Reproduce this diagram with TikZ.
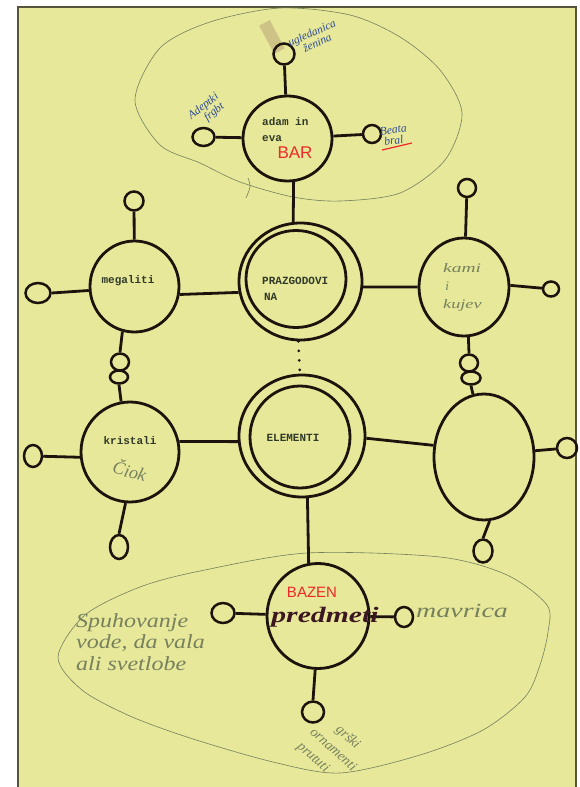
\documentclass[tikz,border=0pt]{standalone}
\usepackage{fontspec}
\usepackage{graphicx}
\newfontfamily\tw{Liberation Mono}
\newfontfamily\hand{Liberation Serif}
\newfontfamily\marker{Liberation Sans}
\usetikzlibrary{shapes.geometric}
\definecolor{paper}{RGB}{231,232,154}
\definecolor{edge}{RGB}{85,85,60}
\definecolor{ink}{RGB}{28,20,12}
\definecolor{pencil}{RGB}{118,128,92}
\definecolor{bluepen}{RGB}{45,75,150}
\definecolor{redpen}{RGB}{238,40,40}
\definecolor{typed}{RGB}{48,58,40}
\definecolor{plum}{RGB}{60,22,32}
\definecolor{tape}{RGB}{205,195,135}
\tikzset{
  big/.style={ellipse, draw=ink, line width=2.8pt, inner sep=0pt},
  bub/.style={ellipse, draw=ink, line width=2.5pt, inner sep=0pt},
  link/.style={draw=ink, line width=2.8pt},
  typ/.style={font=\tw\bfseries\fontsize{11}{16}\selectfont, text=typed, inner sep=0pt, align=left},
  pen/.style={font=\hand\itshape\fontsize{20}{21.5}\selectfont, text=pencil, inner sep=0pt, align=left},
  bpen/.style={font=\hand\itshape\fontsize{11.5}{11}\selectfont, text=bluepen, inner sep=0pt, align=left},
  pline/.style={draw=pencil, line width=0.6pt}
}
\begin{document}
\begin{tikzpicture}[x=1pt,y=-1pt]
\useasboundingbox (0,0) rectangle (579,787);
\fill[white] (0,0) rectangle (579,787);
\fill[paper] (18,7) rectangle (576,787);
\draw[edge, line width=1.2pt] (18,787) -- (18,7) -- (576,7) -- (576,787);
% tape mark
\fill[tape, rotate around={-62:(272,37)}] (256,31) rectangle (288,43);
% pencil outlines
\draw[pline] plot[smooth cycle] coordinates {(135,100) (160,48) (210,22) (280,8) (350,15) (400,37) (440,70) (462,113) (445,160) (400,193) (340,201) (293,197) (240,182) (200,163) (160,145)};
\draw[pline] plot[smooth cycle] coordinates {(58,657) (85,615) (140,587) (200,571) (307,553) (440,557) (507,575) (547,605) (548,632) (540,665) (525,697) (483,730) (420,755) (340,773) (273,762) (190,738) (130,716) (82,690)};
\draw[pline] (248,178) .. controls (251,186) .. (246,198);
% main nodes
\node[big, minimum width=89pt, minimum height=85pt] (adam) at (287.5,138.5) {};
\node[big, minimum width=123pt, minimum height=117pt] (praz) at (300.5,281.5) {};
\node[big, minimum width=100pt, minimum height=97pt] (prazIn) at (296,279) {};
\node[big, minimum width=89pt, minimum height=91pt] (meg) at (134.5,286.5) {};
\node[big, minimum width=98pt, minimum height=100pt] (kri) at (130,452) {};
\node[big, minimum width=90pt, minimum height=98pt] (ru) at (464,287) {};
\node[big, minimum width=126pt, minimum height=122pt] (ele) at (302,436) {};
\node[big, minimum width=100pt, minimum height=102pt] (eleIn) at (300,437) {};
\node[big, minimum width=100pt, minimum height=126pt] (rl) at (484,457) {};
\node[big, minimum width=102pt, minimum height=105pt] (baz) at (318,616) {};
% small bubbles
\node[bub, minimum width=21pt, minimum height=21pt] (adamT) at (284,54) {};
\node[bub, minimum width=22pt, minimum height=18pt] (adamL) at (203.5,137) {};
\node[bub, minimum width=18pt, minimum height=18pt] (adamR) at (372,134) {};
\node[bub, minimum width=19pt, minimum height=19pt] (megT) at (134,201) {};
\node[bub, minimum width=25pt, minimum height=20pt] (megL) at (38,293) {};
\node[bub, minimum width=18pt, minimum height=17pt] (megB1) at (120,362) {};
\node[bub, minimum width=18pt, minimum height=13pt] (megB2) at (119,377) {};
\node[bub, minimum width=18pt, minimum height=22pt] (kriL) at (33,456) {};
\node[bub, minimum width=18pt, minimum height=24pt] (kriB) at (119,547) {};
\node[bub, minimum width=18pt, minimum height=18pt] (ruT) at (467,188) {};
\node[bub, minimum width=16pt, minimum height=15pt] (ruR) at (551,289) {};
\node[bub, minimum width=18pt, minimum height=17pt] (ruB1) at (469,363) {};
\node[bub, minimum width=19pt, minimum height=13pt] (ruB2) at (471,378) {};
\node[bub, minimum width=20pt, minimum height=20pt] (rlR) at (567,448) {};
\node[bub, minimum width=19pt, minimum height=23pt] (rlB) at (483,551) {};
\node[bub, minimum width=23pt, minimum height=20pt] (bazL) at (223,613) {};
\node[bub, minimum width=18pt, minimum height=20pt] (bazR) at (404,617) {};
\node[bub, minimum width=22pt, minimum height=21pt] (bazB) at (313,712) {};
% connectors
\draw[link] (adamT) -- (adam);
\draw[link] (adamL) -- (adam);
\draw[link] (adam) -- (adamR);
\draw[link] (adam.-82) -- (praz.97);
\draw[link] (meg.-10) -- (praz.190);
\draw[link] (praz.-5) -- (ru.west);
\draw[link] (megT) -- (meg);
\draw[link] (megL.east) -- (meg.185);
\draw[link] (meg.-105) -- (megB1.north);
\draw[link] (megB2.south) -- (kri.100);
\draw[link] (kriL) -- (kri.186);
\draw[link] (kri.12) -- (ele.185);
\draw[link] (ele.-2) -- (rl.167);
\draw[link] (kri.-95) -- (kriB.north);
\draw[link] (ruT) -- (ru);
\draw[link] (ru.2) -- (ruR);
\draw[link] (ru.-85) -- (ruB1.north);
\draw[link] (ruB2.south) -- (rl.100);
\draw[link] (rl.7) -- (rlR);
\draw[link] (rl.-85) -- (rlB.north);
\draw[link] (ele.-85) -- (baz.100);
\draw[link] (bazL) -- (baz);
\draw[link] (baz) -- (bazR);
\draw[link] (baz.-93) -- (bazB.north);
\draw[ink, line width=3pt, line cap=round, dash pattern=on 0pt off 9.5pt] (praz.-92) -- (ele.92);
% typed texts
\node[typ, anchor=west] (tAdam) at (262,129.5) {adam in\\eva};
\node[typ, anchor=west] (tPraz) at (262,289) {PRAZGODOVI\\\,NA};
\node[typ] (tMeg) at (128,281) {megaliti};
\node[typ] (tKri) at (130,441) {kristali};
\node[typ] (tEle) at (293,438) {ELEMENTI};
% marker texts
\node[font=\marker\fontsize{17}{17}\selectfont, text=redpen, inner sep=0pt] (tBar) at (295,153) {BAR};
\node[font=\marker\fontsize{15}{15}\selectfont, text=redpen, inner sep=0pt] (tBazen) at (312,592) {BAZEN};
\node[font=\hand\itshape\bfseries\fontsize{22}{22}\selectfont, text=plum, inner sep=0pt] (tPred) at (325,617) {\scalebox{1.35}[1]{predmeti}};
% pencil texts
\node[pen, font=\hand\itshape\fontsize{13}{18}\selectfont, anchor=north west] (tKami) at (443,263) {\scalebox{1.5}[1]{kami}\\\,i\\\scalebox{1.4}[1]{kujev}};
\node[pen, font=\hand\itshape\fontsize{18}{18}\selectfont, rotate=-15] (tRok) at (130,470) {Čiok};
\node[pen, anchor=west] (tSpuh) at (76,642) {\scalebox{1.2}[1]{Spuhovanje}\\\scalebox{1.2}[1]{vode, da vala}\\\scalebox{1.2}[1]{ali svetlobe}};
\node[pen, anchor=west] (tMav) at (416,611) {\scalebox{1.4}[1]{mavrica}};
\node[pen, font=\hand\itshape\fontsize{14}{19}\selectfont, rotate=-42] (tGr) at (333,750) {\quad\ grški\\ornamenti\\prututi};
% blue pen texts
\node[bpen, rotate=24] (tUgl) at (314,38) {ugledanica\\\quad ženina};
\node[bpen, rotate=38] (tAde) at (207,111) {Adeptki\\\quad frgbt};
\node[bpen, rotate=8] (tBea) at (394,135) {Beata\\ \ bral};
\draw[redpen, line width=1.2pt] (382,150) -- (412,143);
\end{tikzpicture}
\end{document}
